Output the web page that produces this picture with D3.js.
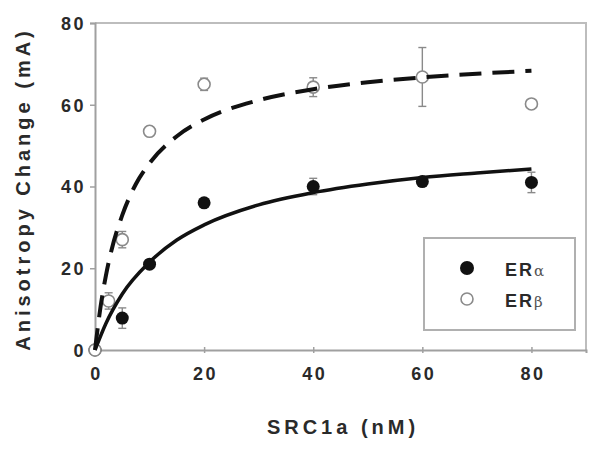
<!DOCTYPE html>
<html>
<head>
<meta charset="utf-8">
<script src="https://cdnjs.cloudflare.com/ajax/libs/d3/7.8.5/d3.min.js"></script>
<style>
  body { margin: 0; background: #fff; }
  svg text { font-family: "Liberation Sans", Arial, sans-serif; font-weight: bold; fill: #2a2a2a; }
</style>
</head>
<body>
<svg id="chart" width="600" height="449"></svg>
<script>
// measured points
const alphaX = [0, 5, 10, 20, 40, 60, 80]
const alphaY = [0, 7.8, 21, 36, 40, 41.2, 41]
const alphaErr = [0, 2.5, 1, 1, 2, 1, 2.5]

const betaX = [0, 2.5, 5, 10, 20, 40, 60, 80]
const betaY = [0, 12, 27, 53.5, 65, 64.3, 66.8, 60.2]
const betaErr = [0, 2, 2, 1, 1.5, 2.3, 7.2, 0.5]

// fitted curves
const fitAlphaX = [0, 2, 5, 10, 15, 20, 30, 40, 50, 60, 70, 80]
const fitAlphaY = [0, 6.5, 13.7, 21.5, 26.9, 30.6, 35.5, 38.5, 40.6, 42.2, 43.3, 44.3]
const fitBetaX = [0, 1, 2, 3, 5, 7.5, 10, 15, 20, 30, 40, 50, 60, 70, 80]
const fitBetaY = [0, 10.4, 18.2, 24.3, 33, 40.6, 45.7, 52.3, 56.4, 61.1, 63.8, 65.5, 66.7, 67.6, 68.3]

const xTicks = [0, 20, 40, 60, 80]
const yTicks = [0, 20, 40, 60, 80]
const legendNames = ["ER", "ER"]
const legendGreek = ["\u03b1", "\u03b2"]

const svg = d3.select("#chart")
const m = { left: 95, top: 23, right: 586, bottom: 350 }

const x = d3.scaleLinear().domain([0, 90]).range([m.left, m.right])
const y = d3.scaleLinear().domain([0, 80]).range([m.bottom, m.top])

// frame (top + right)
svg.append("path")
  .attr("d", `M${m.left},${m.top}H${m.right}V${m.bottom}`)
  .attr("fill", "none").attr("stroke", "#bdbdbd").attr("stroke-width", 2)

// y axis
const yAxis = svg.append("g")
  .attr("transform", `translate(${m.left},0)`)
  .call(d3.axisLeft(y).tickValues(yTicks).tickSize(5).tickPadding(7))
yAxis.select(".domain").attr("stroke", "#a0a0a0").attr("stroke-width", 2)
yAxis.selectAll("line").attr("stroke", "#a0a0a0").attr("stroke-width", 1.5)
yAxis.selectAll("text")
  .style("font-size", "18px").style("letter-spacing", "2.5px")
  .attr("x", -9).attr("dy", "0.36em").attr("fill", "#2a2a2a")

// x axis
const xAxis = svg.append("g")
  .attr("transform", `translate(0,${m.bottom})`)
  .call(d3.axisBottom(x).tickValues(xTicks).tickSize(3).tickPadding(14))
xAxis.select(".domain").attr("stroke", "#a0a0a0").attr("stroke-width", 2)
xAxis.selectAll("line").attr("stroke", "#a0a0a0").attr("stroke-width", 1.5).attr("y1", -3)
xAxis.selectAll("text")
  .style("font-size", "18px").style("letter-spacing", "2.5px")
  .attr("dx", "1px").attr("fill", "#2a2a2a")

// axis titles
svg.append("text")
  .attr("x", 343).attr("y", 434)
  .attr("text-anchor", "middle")
  .style("font-size", "20px").style("letter-spacing", "4px")
  .text("SRC1a (nM)")

svg.append("text")
  .attr("transform", "translate(30,189) rotate(-90)")
  .attr("text-anchor", "middle")
  .style("font-size", "20px").style("letter-spacing", "4px")
  .text("Anisotropy Change (mA)")

// error bars
const drawErr = (xs, ys, es) => {
  const g = svg.append("g").attr("stroke", "#8a8a8a").attr("stroke-width", 1.4)
  xs.forEach((v, i) => {
    if (!es[i]) return
    const cx = x(v), top = y(ys[i] + es[i]), bot = y(ys[i] - es[i])
    g.append("line").attr("x1", cx).attr("x2", cx).attr("y1", top).attr("y2", bot)
    g.append("line").attr("x1", cx - 4).attr("x2", cx + 4).attr("y1", top).attr("y2", top)
    g.append("line").attr("x1", cx - 4).attr("x2", cx + 4).attr("y1", bot).attr("y2", bot)
  })
}
drawErr(betaX, betaY, betaErr)
drawErr(alphaX, alphaY, alphaErr)

// markers
svg.append("g").selectAll("circle")
  .data(alphaX.map((v, i) => [v, alphaY[i]]))
  .join("circle")
  .attr("cx", d => x(d[0])).attr("cy", d => y(d[1])).attr("r", 6.5)
  .attr("fill", "#111")

svg.append("g").selectAll("circle")
  .data(betaX.map((v, i) => [v, betaY[i]]))
  .join("circle")
  .attr("cx", d => x(d[0])).attr("cy", d => y(d[1])).attr("r", 6)
  .attr("fill", "#fff").attr("stroke", "#8a8a8a").attr("stroke-width", 1.6)

// fit curves
const line = d3.line().x(d => x(d[0])).y(d => y(d[1])).curve(d3.curveMonotoneX)

svg.append("path")
  .datum(fitBetaX.map((v, i) => [v, fitBetaY[i]]))
  .attr("d", line)
  .attr("fill", "none").attr("stroke", "#111").attr("stroke-width", 4)
  .attr("stroke-dasharray", "22,11")

svg.append("path")
  .datum(fitAlphaX.map((v, i) => [v, fitAlphaY[i]]))
  .attr("d", line)
  .attr("fill", "none").attr("stroke", "#111").attr("stroke-width", 3.5)

// legend
svg.append("rect")
  .attr("x", 424).attr("y", 238).attr("width", 151).attr("height", 92)
  .attr("fill", "#fff").attr("stroke", "#b0b0b0").attr("stroke-width", 2)

const leg = svg.append("g")
legendNames.forEach((n, i) => {
  const cy = 268 + i * 31
  if (i === 0) {
    leg.append("circle").attr("cx", 467).attr("cy", cy).attr("r", 7).attr("fill", "#111")
  } else {
    leg.append("circle").attr("cx", 467).attr("cy", cy).attr("r", 6)
      .attr("fill", "#fff").attr("stroke", "#8a8a8a").attr("stroke-width", 1.6)
  }
  const t = leg.append("text").attr("x", 505).attr("y", cy + 8)
    .style("font-size", "18px").style("letter-spacing", "2px")
  t.append("tspan").text(n)
  t.append("tspan").text(legendGreek[i])
    .style("font-family", "'DejaVu Serif', serif").style("font-weight", "normal")
    .style("font-size", "15px").style("letter-spacing", "0px").attr("fill", "#555")
})
</script>
</body>
</html>
